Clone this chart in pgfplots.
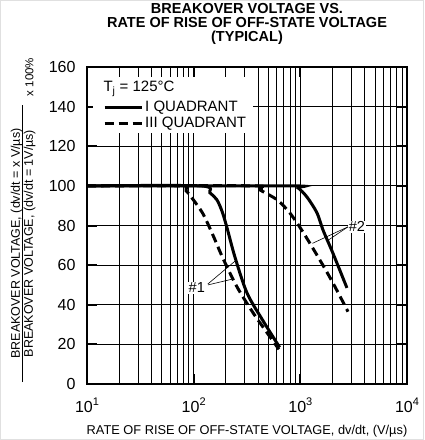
\documentclass[border=0pt]{standalone}
\usepackage{fontspec}
\setmainfont{Liberation Sans}
\usepackage{pgfplots}
\pgfplotsset{compat=1.18}

\begin{document}
\begin{tikzpicture}
\begin{axis}[
  at={(0,0)}, anchor=south west,
  scale only axis, width=320pt, height=317pt,
  xmode=log, xmin=10, xmax=10000, ymin=0, ymax=160,
  ytick={0,20,...,160},
  xtick={10,100,1000,10000},
  xticklabels={10\raisebox{0.42em}{\fontsize{11}{11}\selectfont 1},
               10\raisebox{0.42em}{\fontsize{11}{11}\selectfont 2},
               10\raisebox{0.42em}{\fontsize{11}{11}\selectfont 3},
               10\raisebox{0.42em}{\fontsize{11}{11}\selectfont 4}},
  grid=both,
  major grid style={black, line width=0.8pt},
  minor grid style={black, line width=0.7pt},
  major x grid style={line width=1.2pt},
  axis line style={line width=1.5pt},
  tick align=inside,
  major tick length=10pt, minor tick length=0pt,
  every tick/.style={black, line width=2pt},
  /pgf/number format/assume math mode=true,
  yticklabel style={font=\fontsize{16}{16}\selectfont, xshift=-8pt},
  xticklabel style={font=\fontsize{16}{16}\selectfont, anchor=base, yshift=-28pt},
  legend style={at={(axis description cs:0.05,0.899)}, anchor=north west,
    draw=none, fill=none, font=\fontsize{15}{17}\selectfont, inner sep=0pt,
    row sep=0pt},
  legend cell align=left,
  legend image code/.code={\draw[#1] (0pt,0pt) -- (37pt,0pt);},
]
\fill[white] (axis description cs:0.019,0.792) rectangle (axis description cs:0.519,0.968);

% I quadrant, curve #1
\addplot[black, line width=3pt, smooth] coordinates {
  (10,100) (115,100) (142,96.5) (165,93) (185,87) (205,79) (244,64)
  (316,46) (446,32) (640,18.5)};
\addlegendentry{I QUADRANT}
% III quadrant, curve #1
\addplot[black, line width=3pt, dash pattern=on 9pt off 5pt, smooth] coordinates {
  (10,100) (72,100) (85,97.5) (96,94) (122,86) (152,75) (188,63.5)
  (255,49) (360,36) (486,26) (630,17.5)};
\addlegendentry{III QUADRANT}
% I quadrant, curve #2
\addplot[black, line width=3pt, smooth, forget plot] coordinates {
  (10,100) (800,100) (950,99) (1153,94.4) (1432,86.4) (1630,77.8)
  (2022,66) (2735,48.5)};
% III quadrant, curve #2
\addplot[black, line width=3pt, dash pattern=on 9pt off 5pt, smooth, forget plot] coordinates {
  (10,100) (370,100) (417,98) (604,93) (796,86.4) (1056,76.8)
  (1524,62.6) (2022,51) (2800,36.5)};

\draw[line width=0.6pt] (axis cs:136,50.5) -- (axis cs:244,62);
\draw[line width=0.6pt] (axis cs:136,50) -- (axis cs:233,53);
\draw[line width=0.6pt] (axis cs:2790,79.3) -- (axis cs:1815,72.5);
\draw[line width=0.6pt] (axis cs:2790,79.3) -- (axis cs:1300,71);
\node[fill=white, inner sep=1pt, font=\fontsize{14.5}{14.5}\selectfont] at (axis cs:107,48.5) {\#1};
\node[fill=white, inner sep=1pt, font=\fontsize{14.5}{14.5}\selectfont] at (axis cs:3390,79.3) {\#2};
\end{axis}

\node[anchor=base west, font=\fontsize{15}{15}\selectfont] at (13pt,292pt) {T\textsubscript{j} = 125°C};

\node[anchor=base, font=\fontsize{14.5}{14.5}\bfseries\selectfont] at (160pt,370pt) {BREAKOVER VOLTAGE VS.};
\node[anchor=base, font=\fontsize{14.5}{14.5}\bfseries\selectfont] at (160pt,356pt) {RATE OF RISE OF OFF-STATE VOLTAGE};
\node[anchor=base, font=\fontsize{14.5}{14.5}\bfseries\selectfont] at (160pt,342.5pt) {(TYPICAL)};

\node[anchor=base, font=\fontsize{12.8}{12.8}\selectfont] at (160pt,-50pt) {RATE OF RISE OF OFF-STATE VOLTAGE, dv/dt, (V/µs)};

\node[rotate=90, anchor=base, font=\fontsize{12.5}{12.5}\selectfont] at (-67pt,140.5pt) {BREAKOVER VOLTAGE, (dv/dt = x V/µs)};
\draw[line width=0.6pt] (-65pt,2pt) -- (-65pt,279pt);
\node[rotate=90, anchor=base, font=\fontsize{12.5}{12.5}\selectfont] at (-54pt,140.5pt) {BREAKOVER VOLTAGE, (dv/dt = 1V/µs)};
\node[rotate=90, anchor=base, font=\fontsize{11.5}{11.5}\selectfont] at (-53.5pt,307pt) {x 100\%};

% faint frame on the page edge so the page keeps its full size
\draw[black!12, line width=0.6pt] (-86.7pt,-55.7pt) rectangle (336.7pt,383.7pt);
\pgfresetboundingbox
\useasboundingbox (-87pt,-56pt) rectangle (337pt,384pt);
\end{tikzpicture}
\end{document}
